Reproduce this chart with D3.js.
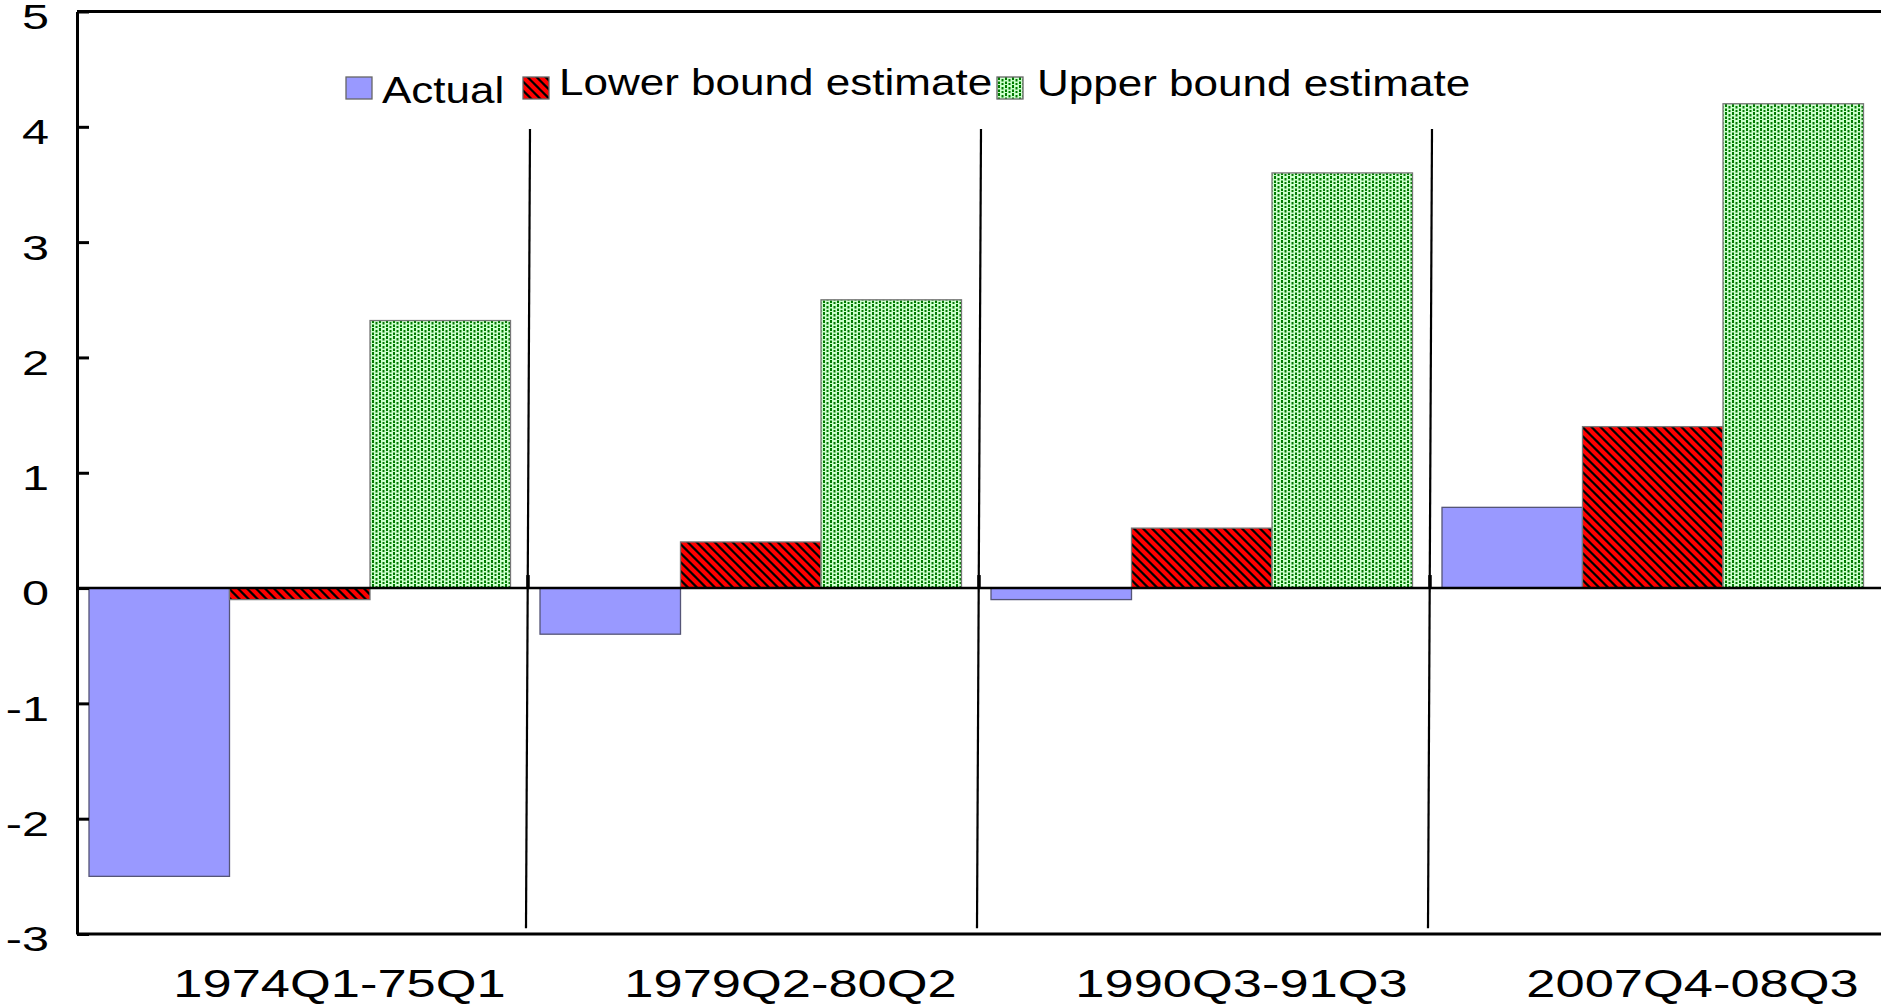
<!DOCTYPE html>
<html lang="en">
  <head>
    <meta charset="UTF-8" />
    <title>Actual vs estimated bounds</title>
    <script src="https://d3js.org/d3.v7.min.js"></script>
    <style>
      body {
        margin: 0;
        background: white;
        font-family: 'Liberation Sans', Arial, sans-serif;
      }
      svg {
        display: block;
      }
    </style>
  </head>
  <body>
    <svg width="1881" height="1004"></svg>

    <script>
      const categories = ['1974Q1-75Q1', '1979Q2-80Q2', '1990Q3-91Q3', '2007Q4-08Q3'];
      const seriesNames = ['Actual', 'Lower bound estimate', 'Upper bound estimate'];
      const actual = [-2.5, -0.4, -0.1, 0.7];
      const lowerBound = [-0.1, 0.4, 0.52, 1.4];
      const upperBound = [2.32, 2.5, 3.6, 4.2];
      const yTicks = [-3, -2, -1, 0, 1, 2, 3, 4, 5];

      const seriesValues = [actual, lowerBound, upperBound];
      const fills = ['#9999ff', 'url(#redStripes)', 'url(#greenDots)'];

      const svg = d3.select('svg');
      const plotLeft = 77,
        plotRight = 1881,
        plotTop = 11.5,
        plotBottom = 934;

      // patterns
      const defs = svg.append('defs');
      const ps = 9,
        hw = 2.9;
      const red = defs
        .append('pattern')
        .attr('id', 'redStripes')
        .attr('patternUnits', 'userSpaceOnUse')
        .attr('width', ps)
        .attr('height', ps);
      red.append('rect').attr('width', ps).attr('height', ps).attr('fill', '#000');
      red
        .append('path')
        .attr('fill', '#ff0000')
        .attr(
          'd',
          `M0,0 L${hw},0 L${ps},${ps - hw} L${ps},${ps} L${ps - hw},${ps} L0,${hw} Z` +
            `M${ps - hw},0 L${ps},0 L${ps},${hw} Z M0,${ps - hw} L0,${ps} L${hw},${ps} Z`,
        );

      const green = defs
        .append('pattern')
        .attr('id', 'greenDots')
        .attr('patternUnits', 'userSpaceOnUse')
        .attr('width', 7)
        .attr('height', 8);
      green.append('rect').attr('width', 7).attr('height', 8).attr('fill', '#ccffcc');
      [
        [1, 0, 2, 3],
        [1, 4.5, 2, 2.5],
        [4.5, 2, 2, 2.5],
        [4.5, 6, 2, 2],
      ].forEach(([x, y, w, h]) =>
        green
          .append('rect')
          .attr('x', x)
          .attr('y', y)
          .attr('width', w)
          .attr('height', h)
          .attr('fill', '#007a00'),
      );

      const x0 = d3.scaleBand().domain(categories).range([plotLeft, plotRight]);
      const x1 = d3.scaleBand().domain(seriesNames).range([12, 12 + 421.5]);
      const y = d3.scaleLinear().domain([-3, 5]).range([plotBottom, plotTop]);

      // bars
      const groups = svg
        .selectAll('g.group')
        .data(categories)
        .join('g')
        .attr('class', 'group')
        .attr('transform', (d) => `translate(${x0(d)},0)`);

      groups
        .selectAll('rect')
        .data((c, i) => seriesNames.map((s, j) => ({ s, j, v: seriesValues[j][i] })))
        .join('rect')
        .attr('x', (d) => x1(d.s))
        .attr('width', x1.bandwidth())
        .attr('y', (d) => y(Math.max(0, d.v)))
        .attr('height', (d) => Math.abs(y(d.v) - y(0)))
        .attr('fill', (d) => fills[d.j])
        .attr('stroke', (d) => (d.j === 0 ? '#555577' : '#777'))
        .attr('stroke-width', 1.3);

      // zero line
      svg
        .append('line')
        .attr('x1', plotLeft)
        .attr('x2', plotRight)
        .attr('y1', y(0))
        .attr('y2', y(0))
        .attr('stroke', '#000')
        .attr('stroke-width', 2.5);

      // separators between periods
      const bounds = categories.slice(1).map((c) => x0(c));
      svg
        .selectAll('line.sep')
        .data(bounds)
        .join('line')
        .attr('class', 'sep')
        .attr('x1', (d) => d + 2)
        .attr('x2', (d) => d - 2)
        .attr('y1', y(3.98))
        .attr('y2', y(-2.95))
        .attr('stroke', '#000')
        .attr('stroke-width', 2.2);

      svg
        .selectAll('line.ztick')
        .data(bounds)
        .join('line')
        .attr('class', 'ztick')
        .attr('x1', (d) => d)
        .attr('x2', (d) => d)
        .attr('y1', y(0))
        .attr('y2', y(0) - 13)
        .attr('stroke', '#000')
        .attr('stroke-width', 3.5);

      // frame top
      svg
        .append('line')
        .attr('x1', plotLeft)
        .attr('x2', plotRight)
        .attr('y1', plotTop)
        .attr('y2', plotTop)
        .attr('stroke', '#000')
        .attr('stroke-width', 3);

      // y axis
      const yAxis = svg
        .append('g')
        .attr('transform', `translate(${plotLeft},0)`)
        .call(
          d3
            .axisLeft(y)
            .tickValues(yTicks)
            .tickFormat((d) => String(d))
            .tickSize(-12)
            .tickSizeOuter(0),
        );
      yAxis.select('.domain').attr('stroke-width', 3);
      yAxis.selectAll('.tick line').attr('stroke-width', 3);
      yAxis
        .selectAll('.tick text')
        .attr('x', 0)
        .attr('dy', '0.47em')
        .attr('text-anchor', 'end')
        .attr('transform', 'translate(-28,0) scale(1.35,1)')
        .attr('font-family', "'Liberation Sans', Arial, sans-serif")
        .attr('font-size', 36)
        .attr('fill', '#000');

      // x axis
      const xAxis = svg
        .append('g')
        .attr('transform', `translate(0,${plotBottom})`)
        .call(d3.axisBottom(x0).tickSize(0).tickSizeOuter(0));
      xAxis.select('.domain').attr('stroke-width', 3).attr('d', `M${plotLeft},0H${plotRight}`);
      xAxis
        .selectAll('.tick text')
        .attr('y', 0)
        .attr('dy', 0)
        .attr('text-anchor', 'middle')
        .attr('transform', 'translate(37,63) scale(1.38,1)')
        .attr('font-family', "'Liberation Sans', Arial, sans-serif")
        .attr('font-size', 38)
        .attr('fill', '#000');

      // legend
      const legendX = [346, 523, 997];
      const legendBase = [103, 95, 96];
      const legend = svg
        .selectAll('g.legend')
        .data(seriesNames)
        .join('g')
        .attr('class', 'legend')
        .attr('transform', (d, i) => `translate(${legendX[i]},77)`);
      legend
        .append('rect')
        .attr('width', 26)
        .attr('height', 22)
        .attr('fill', (d, i) => fills[i])
        .attr('stroke', '#666')
        .attr('stroke-width', 1.3);
      legend
        .append('text')
        .attr('transform', (d, i) => `translate(${i === 2 ? 40 : 36},${legendBase[i] - 77}) scale(1.19,1)`)
        .attr('font-size', 37)
        .attr('fill', '#000')
        .text((d) => d);
    </script>
  </body>
</html>
